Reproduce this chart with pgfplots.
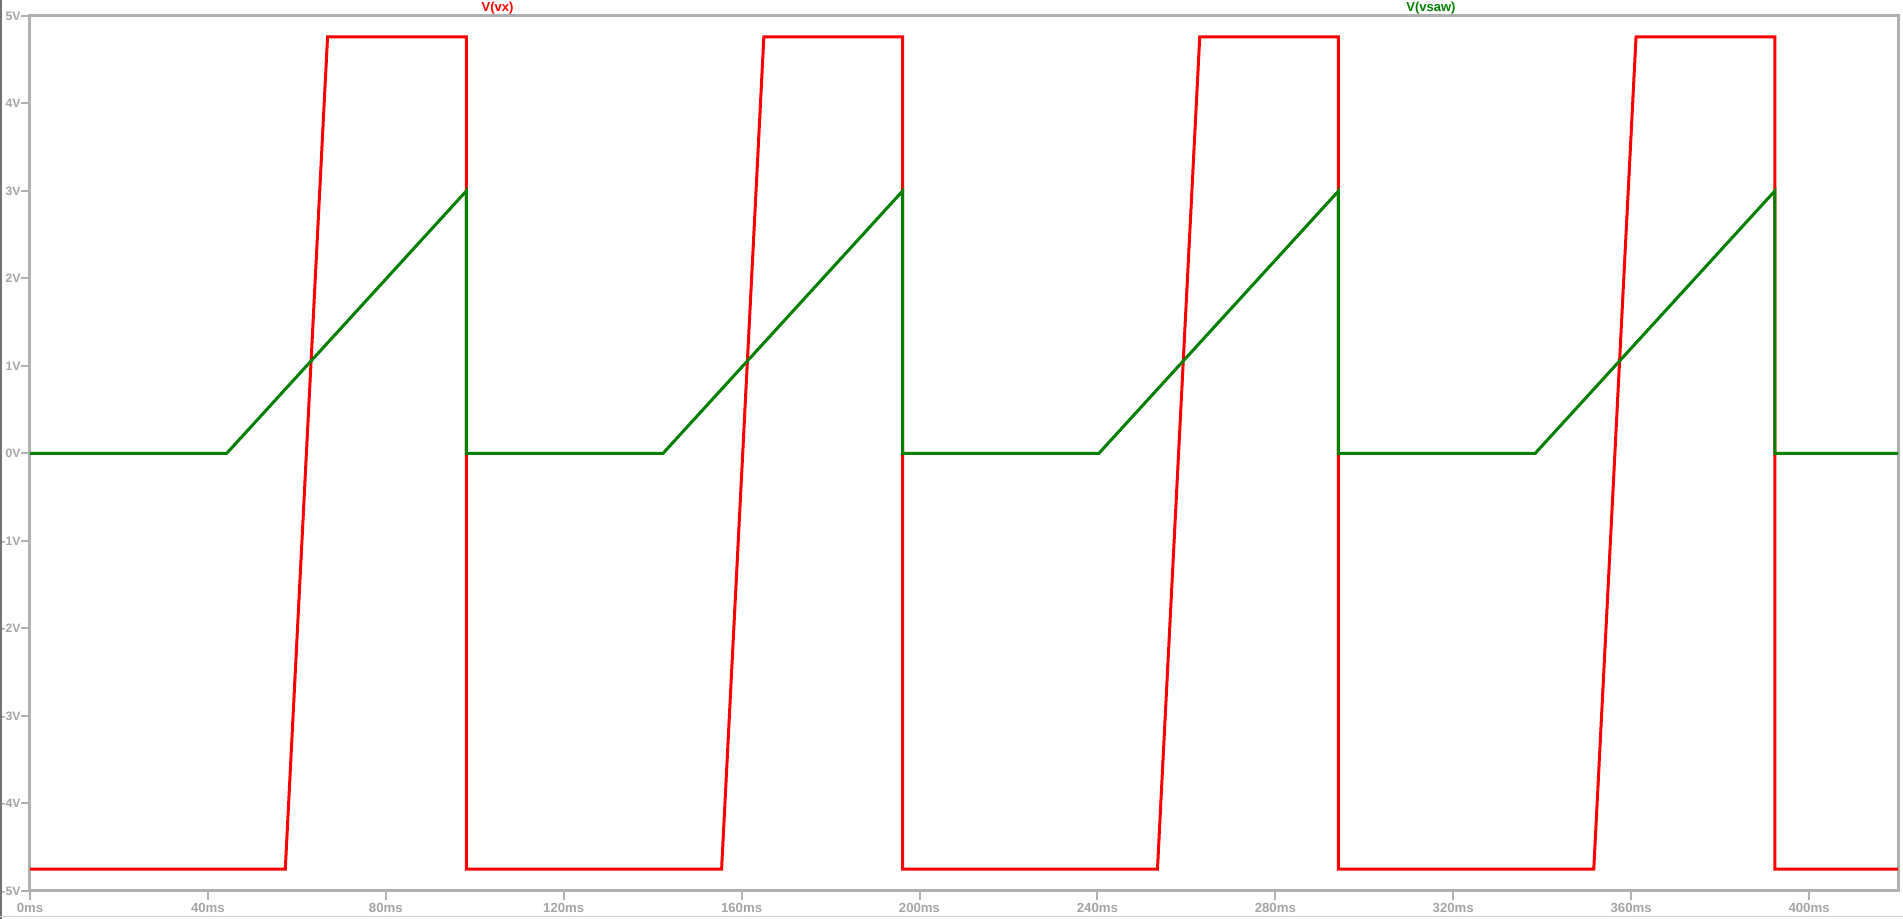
\documentclass[border=0pt]{standalone}
\usepackage{fontspec}
\setmainfont{Liberation Sans}
\usepackage{pgfplots}
\pgfplotsset{compat=1.18}
\usetikzlibrary{calc}
\definecolor{ltgray}{HTML}{B0B0B0}
\definecolor{ltlabel}{HTML}{A4A4A4}
\definecolor{ltred}{HTML}{FF0000}
\definecolor{ltgreen}{HTML}{008000}

\begin{document}
\begin{tikzpicture}
\begin{axis}[
    name=ax,
    scale only axis,
    width=934pt, height=437.5pt,
    xmin=0, xmax=420,
    ymin=-5, ymax=5,
    axis line style={ltgray, line width=1.5pt},
    xtick={0,40,80,120,160,200,240,280,320,360,400},
    xticklabels={0ms,40ms,80ms,120ms,160ms,200ms,240ms,280ms,320ms,360ms,400ms},
    ytick={-5,-4,-3,-2,-1,0,1,2,3,4,5},
    yticklabels={-5V,-4V,-3V,-2V,-1V,0V,1V,2V,3V,4V,5V},
    xtick pos=bottom, ytick pos=left,
    tick align=outside,
    major tick length=4.5pt,
    tick style={ltgray, line width=1pt},
    xticklabel style={font=\bfseries\fontsize{6.6pt}{7.5pt}\selectfont, text=ltlabel,
      anchor=center, inner sep=0pt, yshift=-4.2pt},
    yticklabel style={font=\bfseries\fontsize{6.1pt}{7pt}\selectfont, text=ltlabel,
      anchor=east, inner sep=0pt, xshift=0pt},
    clip=true,
]
\addplot[ltred, line width=1.5pt] coordinates {
  (0,-4.75) (57.4,-4.75) (66.9,4.76) (98.1,4.76) (98.1,-4.75)
  (155.5,-4.75) (165.0,4.76) (196.2,4.76) (196.2,-4.75)
  (253.5,-4.75) (263.0,4.76) (294.2,4.76) (294.2,-4.75)
  (351.6,-4.75) (361.1,4.76) (392.3,4.76) (392.3,-4.75) (420,-4.75)
};
\addplot[ltgreen, line width=1.5pt] coordinates {
  (0,0) (44.2,0) (98.1,3) (98.1,0)
  (142.3,0) (196.2,3) (196.2,0)
  (240.3,0) (294.2,3) (294.2,0)
  (338.4,0) (392.3,3) (392.3,0) (420,0)
};
\end{axis}
\node[font=\bfseries\fontsize{6.5pt}{7pt}\selectfont, text=ltred, inner sep=0pt]
  at ($(ax.south west)!0.2503!(ax.south east)+(0,441.5pt)$) {V(vx)};
\node[font=\bfseries\fontsize{6.5pt}{7pt}\selectfont, text=ltgreen, inner sep=0pt]
  at ($(ax.south west)!0.75!(ax.south east)+(0,441.5pt)$) {V(vsaw)};
\draw[black!55, line width=0.9pt] (-14.55pt,-14pt) -- (-14.55pt,445.5pt);
\draw[black!18, line width=0.6pt] (-15pt,-12.8pt) -- (936.5pt,-12.8pt);
\pgfresetboundingbox
\useasboundingbox (-15pt,-14pt) rectangle (936.5pt,445.5pt);
\end{tikzpicture}
\end{document}
